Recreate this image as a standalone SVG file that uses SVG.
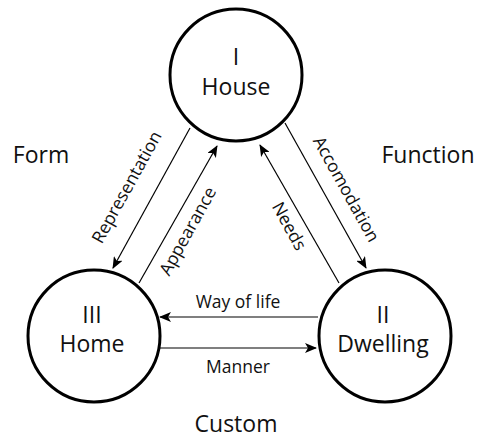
<svg xmlns="http://www.w3.org/2000/svg" width="477" height="438" viewBox="0 0 477 438">
<defs>
<style>
.node{fill:#fff;stroke:#000;stroke-width:3}
.t{font-family:"Open Sans","Noto Sans",sans-serif;font-size:23px;fill:#111;text-anchor:middle}
.l{font-family:"Open Sans","Noto Sans",sans-serif;font-size:17.5px;fill:#111;text-anchor:middle}
.c{stroke:#000;stroke-width:1.2;fill:none;marker-end:url(#ah)}
</style>
<marker id="ah" viewBox="0 0 12 10" refX="11" refY="5" markerWidth="12" markerHeight="10" markerUnits="userSpaceOnUse" orient="auto">
<path d="M0,0 L12,5 L0,10 L3,5 z" fill="#000"/>
</marker>
</defs>
<rect width="477" height="438" fill="#fff"/>
<g id="connectors">
<line class="c" x1="190" y1="128" x2="113" y2="268"/>
<line class="c" x1="139" y1="283" x2="217" y2="146"/>
<line class="c" x1="285" y1="123" x2="366" y2="268"/>
<line class="c" x1="339" y1="283" x2="260" y2="145"/>
<line class="c" x1="318" y1="317" x2="160" y2="317"/>
<line class="c" x1="160" y1="348" x2="316" y2="348"/>
<text class="l" transform="translate(132,190) rotate(-61)">Representation</text>
<text class="l" transform="translate(193,234) rotate(-61)">Appearance</text>
<text class="l" transform="translate(341,192) rotate(61)">Accomodation</text>
<text class="l" transform="translate(284,229) rotate(61)">Needs</text>
<text class="l" x="238" y="308">Way of life</text>
<text class="l" x="238" y="373">Manner</text>
</g>
<g id="house">
<circle class="node" cx="236" cy="75" r="66"/>
<text class="t" x="236" y="65">I</text>
<text class="t" x="236" y="95">House</text>
</g>
<g id="home">
<circle class="node" cx="94" cy="336" r="66"/>
<text class="t" x="92" y="323">III</text>
<text class="t" x="92" y="352">Home</text>
</g>
<g id="dwelling">
<circle class="node" cx="385" cy="336" r="66"/>
<text class="t" x="383" y="323">II</text>
<text class="t" x="383" y="352">Dwelling</text>
</g>
<g id="labels">
<text class="t" x="41" y="163">Form</text>
<text class="t" x="428" y="163">Function</text>
<text class="t" x="236" y="432">Custom</text>
</g>
</svg>
